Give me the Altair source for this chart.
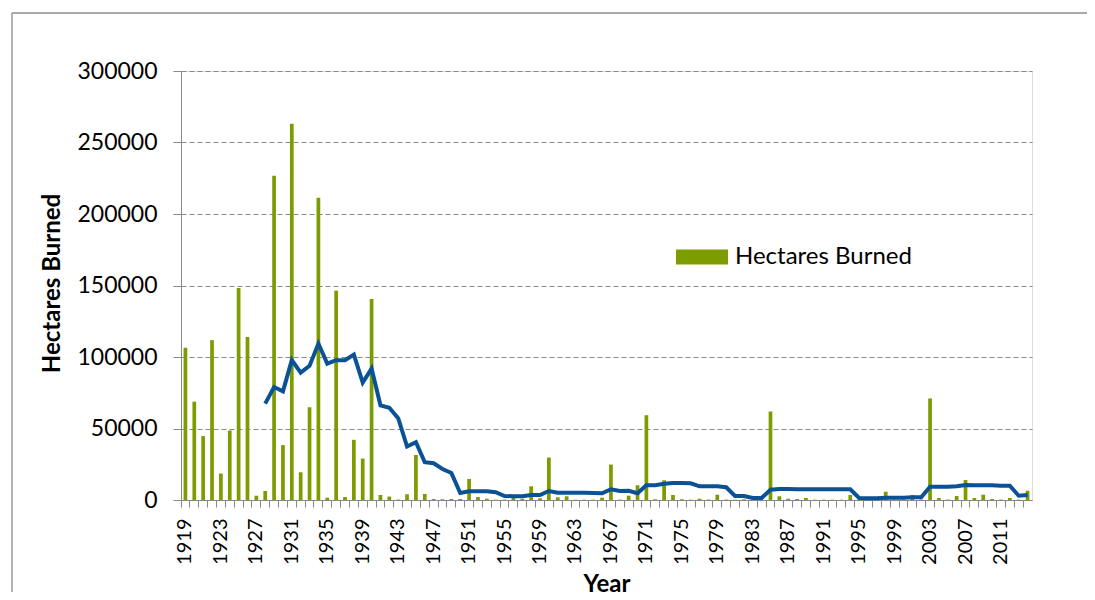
import altair as alt
import pandas as pd

years = list(range(1919, 2015))
hectares = [
    106400, 68800, 44700, 111800, 18500, 48600, 148300, 113900, 3000, 6300,   # 1919-1928
    226800, 38400, 263100, 19400, 64800, 211400, 1600, 146400, 2100, 42100,   # 1929-1938
    29000, 140600, 3500, 2400, 300, 4000, 31500, 4200, 700, 500,              # 1939-1948
    700, 700, 14700, 2100, 900, 200, 300, 1400, 800, 9600,                    # 1949-1958
    1200, 29700, 1900, 2600, 200, 200, 200, 1600, 24800, 300,                 # 1959-1968
    3000, 10300, 59300, 500, 13800, 3500, 500, 200, 900, 300,                 # 1969-1978
    3700, 300, 200, 500, 200, 200, 61900, 2600, 900, 700,                     # 1979-1988
    1400, 200, 200, 200, 200, 3500, 300, 300, 300, 5800,                      # 1989-1998
    300, 300, 3500, 300, 71000, 1400, 300, 2800, 14000, 1400,                 # 1999-2008
    3700, 700, 300, 1400, 300, 6500,                                          # 2009-2014
]

ma_years = list(range(1928, 2015))
ma_values = [
    67400, 79000, 76000, 97800, 89100, 93800, 109400, 95400, 97800, 97800,    # 1928-1937
    101700, 82100, 91900, 66200, 64500, 57200, 37400, 40400, 26400, 25700,    # 1938-1947
    21700, 18900, 4900, 6100, 6100, 6100, 5400, 2800, 2600, 2600,             # 1948-1957
    3500, 3500, 6300, 5100, 5100, 5100, 5100, 4900, 4700, 7500,               # 1958-1967
    6300, 6500, 4700, 10300, 10300, 11400, 11900, 11900, 11700, 9600,         # 1968-1977
    9600, 9600, 8900, 2800, 2800, 1400, 1400, 7200, 7700, 7700,               # 1978-1987
    7500, 7500, 7500, 7500, 7500, 7500, 7500, 1400, 1200, 1200,               # 1988-1997
    1600, 1600, 1600, 1900, 1900, 9300, 9300, 9300, 9600, 10500,              # 1998-2007
    10300, 10300, 10300, 10000, 10000, 3000, 3500,                            # 2008-2014
]

y_ticks = [0, 50000, 100000, 150000, 200000, 250000, 300000]
series_name = "Hectares Burned"

GREEN = "#7d9c00"
BLUE = "#0b5196"
GRAY = "#888888"
FONT = "Lato"

W, H = 851, 429

bars_df = pd.DataFrame({"Year": years, "Hectares": hectares, "Series": series_name})
ma_df = pd.DataFrame({"Year": ma_years, "MA": ma_values})

x_scale = alt.Scale(domain=years, paddingInner=0, paddingOuter=0)
x_axis = alt.Axis(
    title="Year", bandPosition=0,
    labelExpr="datum.value % 4 == 3 ? datum.label : ''",
    labelAngle=-90, labelOverlap=False, labelFont=FONT, labelFontSize=20,
    labelColor="black", labelPadding=11, tickSize=7, tickColor=GRAY,
    domainColor=GRAY, grid=False,
    titleFont=FONT, titleFontSize=24, titleFontWeight="bold", titleColor="black",
    titleX=425.5, titleY=91, titleAlign="center", titleBaseline="alphabetic",
)
y_axis = alt.Axis(
    title="Hectares Burned", values=y_ticks, format="d",
    grid=True, gridDash=[5, 3], gridColor=GRAY, gridWidth=1,
    domainColor=GRAY, tickColor=GRAY, tickSize=8,
    labelFont=FONT, labelFontSize=23, labelPadding=16, labelColor="black",
    titleFont=FONT, titleFontSize=24, titleFontWeight="bold", titleColor="black",
    titleX=-129, titleY=212, titleAngle=270, titleAlign="center", titleBaseline="middle",
)

frame_df = pd.DataFrame({"b": [0]})
border_top = alt.Chart(frame_df).mark_rule(color="#8c8c8c", strokeWidth=1.3).encode(
    x=alt.value(-169), x2=alt.value(1000), y=alt.value(-58)
)
border_left = alt.Chart(frame_df).mark_rule(color="#8c8c8c", strokeWidth=1.3).encode(
    x=alt.value(-169), y=alt.value(-58), y2=alt.value(600)
)

bars = alt.Chart(bars_df).mark_bar(width=alt.RelativeBandSize(0.42)).encode(
    x=alt.X("Year:O", scale=x_scale, axis=x_axis),
    y=alt.Y("Hectares:Q", scale=alt.Scale(domain=[0, 300000]), axis=y_axis),
    color=alt.Color(
        "Series:N",
        scale=alt.Scale(range=[GREEN]),
        legend=alt.Legend(
            title=None, orient="none", legendX=495, legendY=160, padding=0,
            symbolType="M-1,-0.29H1V0.29H-1Z", symbolSize=2704, symbolStrokeWidth=0,
            symbolOpacity=1, labelFont=FONT, labelFontSize=24, labelColor="black",
            labelOffset=7, labelLimit=400,
        ),
    ),
)

line = alt.Chart(ma_df).mark_line(color=BLUE, strokeWidth=4).encode(
    x=alt.X("Year:O", scale=x_scale, axis=x_axis),
    y=alt.Y("MA:Q", scale=alt.Scale(domain=[0, 300000]), axis=y_axis),
)

chart = alt.layer(border_top, border_left, bars, line).properties(
    width=W, height=H, autosize="none",
    padding={"left": 173, "top": 63, "right": 55, "bottom": 92},
).configure_view(stroke=None).configure(font=FONT)

chart.save("out.html", embed_options={"renderer": "svg", "actions": False})
